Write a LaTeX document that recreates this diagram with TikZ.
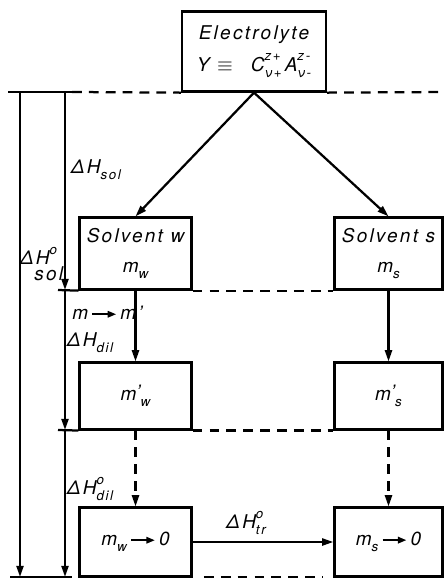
\documentclass[tikz,border=0pt]{standalone}
\usepackage{fontspec}
\setmainfont{TeX Gyre Heros}[LetterSpace=12]
\usetikzlibrary{arrows.meta}

% super- and subscripts of the labels
\newcommand{\ssz}{\fontsize{9.5}{10}\selectfont}
\newcommand{\sbs}[1]{\raisebox{-0.32em}{\ssz #1}}
\newcommand{\sps}[1]{\raisebox{0.55em}{\ssz #1}}
\newcommand{\supsub}[2]{\rlap{\sps{#1}}\sbs{#2}}
\newcommand{\prsub}[1]{\raisebox{0.1em}{'}\sbs{#1}}
% small filled arrow inside the texts
\newcommand{\tarr}{\tikz[baseline=-0.55ex]\draw[line width=1.4pt,-{Triangle[length=6pt,width=4.5pt]}] (0pt,0pt) -- (17pt,0pt);}

\begin{document}
\begin{tikzpicture}[x=0.025cm,y=-0.025cm,line width=1.6pt,
  every node/.style={font=\fontsize{13.5}{16}\selectfont\itshape},
  box/.style={draw,rectangle,inner sep=2pt,line width=1.6pt},
  colL/.style={minimum width=2.8cm},
  colR/.style={minimum width=2.7cm},
  arr/.style={-{Triangle[length=8pt,width=5pt]}},
  lvl/.style={dash pattern=on 7pt off 5pt},
  lbl/.style={anchor=west,inner sep=0pt}]
  \useasboundingbox (0,0) rectangle (444,578);

  % --- boxes ---
  \node[box,minimum width=3.6cm,minimum height=2.0cm,align=center] (elec) at (254,51.5)
    {Electrolyte\\[7pt]Y $\equiv$\;\; C\supsub{z+}{ν+}\,A\supsub{z-}{ν-}};
  \node[box,colL,minimum height=1.8cm,align=center] (solw) at (135.5,253.5) {Solvent w\\[5pt]m\sbs{w}};
  \node[box,colR,minimum height=1.8cm,align=center] (sols) at (388.5,253.5) {Solvent s\\[5pt]m\sbs{s}};
  \node[box,colL,minimum height=1.67cm] (dilw) at (135.5,396) {m\prsub{w}};
  \node[box,colR,minimum height=1.67cm] (dils) at (388.5,396) {m\prsub{s}};
  \node[box,colL,minimum height=1.72cm] (infw) at (135.5,542) {m\sbs{w}\,\tarr\,0};
  \node[box,colR,minimum height=1.72cm] (infs) at (388.5,542) {m\sbs{s}\,\tarr\,0};

  % --- levels ---
  \draw (8,92) -- (72,92);
  \draw[lvl] (72,92) -- (elec.south west);
  \draw[lvl] (elec.south east) -- (444,92);
  \draw (58,290) -- (solw.south west);
  \draw[lvl] (solw.south east) -- (sols.south west);
  \draw (58,430) -- (dilw.south west);
  \draw[lvl] (dilw.south east) -- (dils.south west);
  \draw (10,577) -- (72,577);
  \draw[lvl] ([xshift=8pt]infw.south east) -- ([xshift=-8pt]infs.south west);

  % --- left hand arrows ---
  \coordinate (a0) at (20,92);
  \coordinate (a1) at (20,577);
  \coordinate (b0) at (65,92);
  \coordinate (b1) at (65,290);
  \coordinate (b2) at (65,430);
  \coordinate (b3) at (65,577);
  \draw[arr] (a0) -- (a1);
  \draw[arr] (b0) -- (b1);
  \draw[arr] (b1) -- (b2);
  \draw[arr] (b2) -- (b3);

  % --- arrows between boxes ---
  \draw[arr] (elec.south) -- (solw.north);
  \draw[arr] (elec.south) -- (sols.north);
  \draw[arr] (solw) -- (dilw);
  \draw[arr] (sols) -- (dils);
  \draw[arr,lvl] (dilw) -- (infw);
  \draw[arr,lvl] (dils) -- (infs);
  \draw[arr] (infw) -- node[pos=0.38,above=1pt] (ltr) {ΔH\supsub{o}{tr}} (infs);

  % --- labels ---
  \node[lbl] (lsol) at (70,170) {ΔH\sbs{sol}};
  \node[lbl,align=left] (lsol0) at (19,264) {ΔH\sps{o}\\[-5pt]\hspace*{0.75em}sol};
  \node[lbl] (lmm) at (72,313) {m\,\tarr\,m'};
  \node[lbl] (ldil) at (66,343) {ΔH\sbs{dil}};
  \node[lbl] (ldil0) at (66,489) {ΔH\supsub{o}{dil}};
\end{tikzpicture}
\end{document}
